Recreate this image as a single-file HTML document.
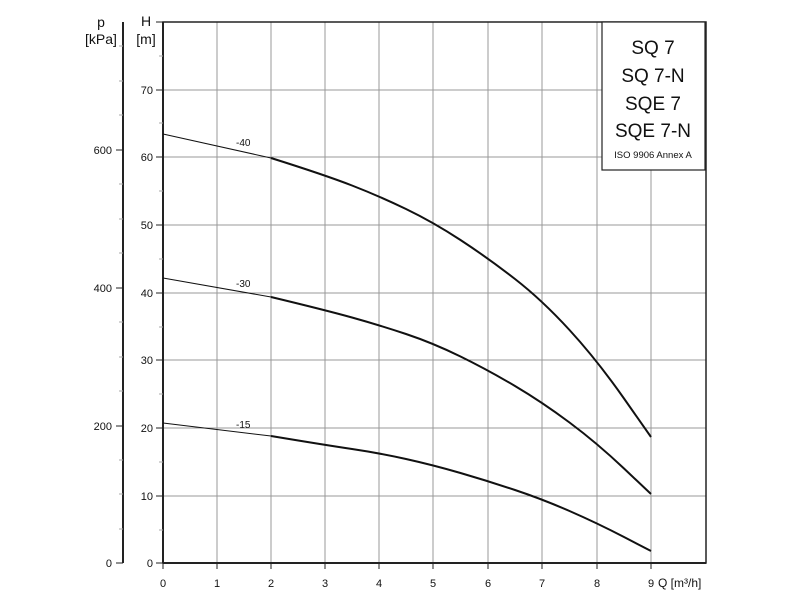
<!DOCTYPE html>
<html><head><style>body{margin:0;background:#fff}svg{display:block}text{font-family:"Liberation Sans","DejaVu Sans",sans-serif;fill:#111}</style></head><body>
<svg width="800" height="600" viewBox="0 0 800 600">
<g stroke="#999" stroke-width="1">
<line x1="217" y1="22" x2="217" y2="563"/><line x1="271" y1="22" x2="271" y2="563"/><line x1="325" y1="22" x2="325" y2="563"/><line x1="379" y1="22" x2="379" y2="563"/><line x1="433" y1="22" x2="433" y2="563"/><line x1="488" y1="22" x2="488" y2="563"/><line x1="542" y1="22" x2="542" y2="563"/><line x1="597" y1="22" x2="597" y2="563"/><line x1="651" y1="170" x2="651" y2="563"/>
<line x1="163" y1="496" x2="706" y2="496"/><line x1="163" y1="428" x2="706" y2="428"/><line x1="163" y1="360" x2="706" y2="360"/><line x1="163" y1="293" x2="706" y2="293"/><line x1="163" y1="225" x2="706" y2="225"/><line x1="163" y1="157" x2="706" y2="157"/><line x1="163" y1="90" x2="602" y2="90"/>
</g>
<rect x="163" y="22" width="543" height="541" fill="none" stroke="#222" stroke-width="1.5"/>
<line x1="163" y1="563" x2="706" y2="563" stroke="#222" stroke-width="2"/>
<line x1="163" y1="22" x2="163" y2="563" stroke="#222" stroke-width="2"/>
<line x1="123" y1="22" x2="123" y2="563" stroke="#222" stroke-width="2"/>
<g stroke="#222" stroke-width="1">
<line x1="156" y1="563" x2="163" y2="563"/><line x1="156" y1="496" x2="163" y2="496"/><line x1="156" y1="428" x2="163" y2="428"/><line x1="156" y1="360" x2="163" y2="360"/><line x1="156" y1="293" x2="163" y2="293"/><line x1="156" y1="225" x2="163" y2="225"/><line x1="156" y1="157" x2="163" y2="157"/><line x1="156" y1="90" x2="163" y2="90"/><line x1="156" y1="22" x2="163" y2="22"/>
<line x1="116" y1="563" x2="123" y2="563"/><line x1="116" y1="426" x2="123" y2="426"/><line x1="116" y1="288" x2="123" y2="288"/><line x1="116" y1="150" x2="123" y2="150"/>
<line x1="163" y1="563" x2="163" y2="569"/><line x1="217" y1="563" x2="217" y2="569"/><line x1="271" y1="563" x2="271" y2="569"/><line x1="325" y1="563" x2="325" y2="569"/><line x1="379" y1="563" x2="379" y2="569"/><line x1="433" y1="563" x2="433" y2="569"/><line x1="488" y1="563" x2="488" y2="569"/><line x1="542" y1="563" x2="542" y2="569"/><line x1="597" y1="563" x2="597" y2="569"/><line x1="651" y1="563" x2="651" y2="569"/>
</g>
<g stroke="#aaa" stroke-width="1">
<line x1="159" y1="530" x2="163" y2="530"/><line x1="159" y1="462" x2="163" y2="462"/><line x1="159" y1="394" x2="163" y2="394"/><line x1="159" y1="327" x2="163" y2="327"/><line x1="159" y1="259" x2="163" y2="259"/><line x1="159" y1="191" x2="163" y2="191"/><line x1="159" y1="123" x2="163" y2="123"/><line x1="159" y1="56" x2="163" y2="56"/>
<line x1="119" y1="529" x2="123" y2="529"/><line x1="119" y1="494" x2="123" y2="494"/><line x1="119" y1="460" x2="123" y2="460"/><line x1="119" y1="391" x2="123" y2="391"/><line x1="119" y1="357" x2="123" y2="357"/><line x1="119" y1="322" x2="123" y2="322"/><line x1="119" y1="253" x2="123" y2="253"/><line x1="119" y1="219" x2="123" y2="219"/><line x1="119" y1="184" x2="123" y2="184"/><line x1="119" y1="115" x2="123" y2="115"/><line x1="119" y1="81" x2="123" y2="81"/><line x1="119" y1="46" x2="123" y2="46"/>
</g>
<g fill="none" stroke="#111">
<path d="M163,134 L271,158" stroke-width="1"/>
<path d="M271,158 Q325,175 352,185.5 Q379,196 406,209 Q433,222 460.5,240 Q488,258 515,279 Q542,300 569.5,330 Q597,360 624,398.5 L651,437" stroke-width="2"/>
<path d="M163,278 L271,297" stroke-width="1"/>
<path d="M271,297 Q325,310 352,317.5 Q379,325 406,334 Q433,343 460.5,356.5 Q488,370 515,386 Q542,402 569.5,422.5 Q597,443 624,468.5 L651,494" stroke-width="2"/>
<path d="M163,423 L271,436" stroke-width="1"/>
<path d="M271,436 Q325,445 352,449 Q379,453 406,459 Q433,465 460.5,473 Q488,481 515,490 Q542,499 569.5,511 Q597,523 624,537 L651,551" stroke-width="2"/>
</g>
<g font-size="10">
<text x="236" y="146">-40</text><text x="236" y="287">-30</text><text x="236" y="428">-15</text>
</g>
<g font-size="11" text-anchor="end">
<text x="153" y="567">0</text><text x="153" y="500">10</text><text x="153" y="432">20</text><text x="153" y="364">30</text><text x="153" y="297">40</text><text x="153" y="229">50</text><text x="153" y="161">60</text><text x="153" y="94">70</text>
<text x="112" y="567">0</text><text x="112" y="430">200</text><text x="112" y="292">400</text><text x="112" y="154">600</text>
</g>
<g font-size="11" text-anchor="middle">
<text x="163" y="587">0</text><text x="217" y="587">1</text><text x="271" y="587">2</text><text x="325" y="587">3</text><text x="379" y="587">4</text><text x="433" y="587">5</text><text x="488" y="587">6</text><text x="542" y="587">7</text><text x="597" y="587">8</text><text x="651" y="587">9</text>
</g>
<text x="658" y="587" font-size="12">Q [m³/h]</text>
<g font-size="14" text-anchor="middle">
<text x="101" y="27">p</text><text x="101" y="44">[kPa]</text>
<text x="146" y="26">H</text><text x="146" y="44">[m]</text>
</g>
<rect x="602" y="22" width="103" height="148" fill="#fff" stroke="#222" stroke-width="1.2"/>
<g font-size="19" text-anchor="middle">
<text x="653" y="54">SQ 7</text><text x="653" y="82">SQ 7-N</text><text x="653" y="110">SQE 7</text><text x="653" y="137">SQE 7-N</text>
</g>
<text x="653" y="158" font-size="9.5" text-anchor="middle">ISO 9906 Annex A</text>
</svg>
</body></html>
